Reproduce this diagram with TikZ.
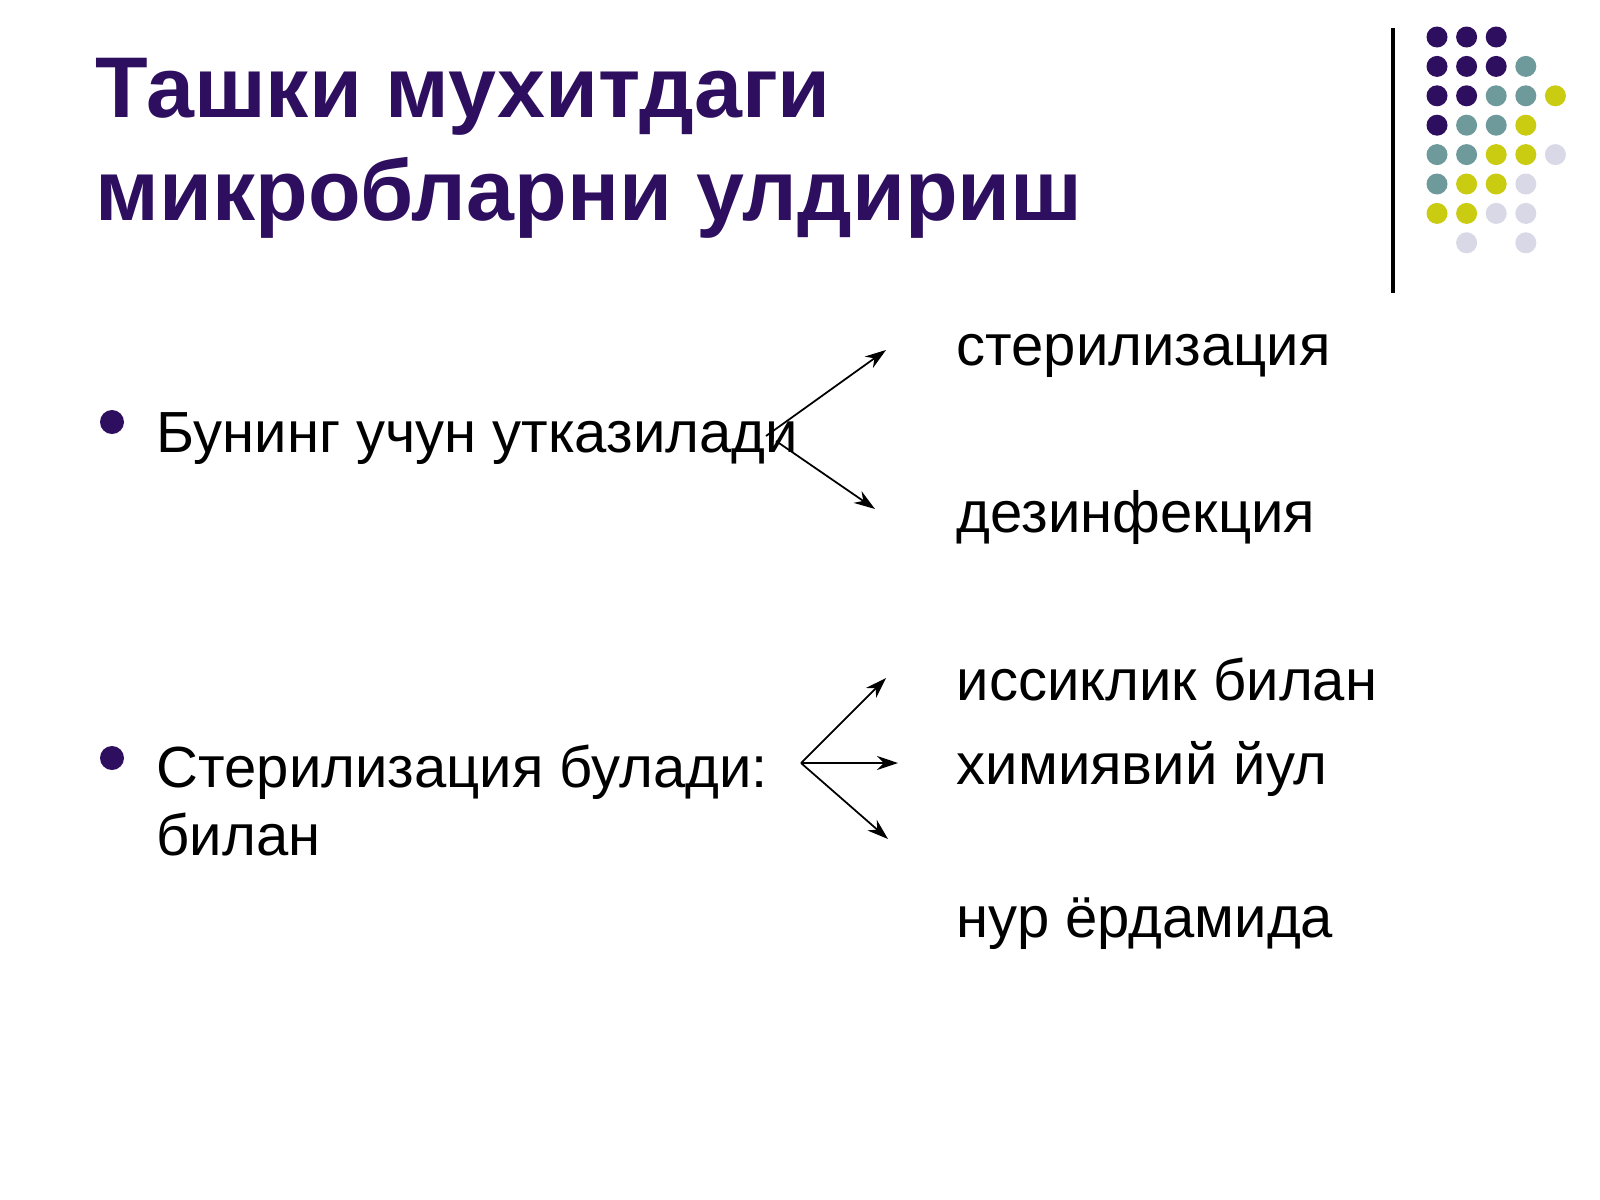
\documentclass[tikz,border=0pt]{standalone}
\usepackage{fontspec}
\setmainfont{Liberation Sans}
\usetikzlibrary{arrows.meta}
\definecolor{pur}{HTML}{2E0E5E}
\definecolor{tl}{HTML}{6E9A9C}
\definecolor{yl}{HTML}{C9CC10}
\definecolor{lv}{HTML}{D8D8E6}
\begin{document}
\begin{tikzpicture}[x=0.01cm,y=-0.01cm,
  body/.style={anchor=base west,inner sep=0,font=\fontsize{16.5}{20}\selectfont},
  ttl/.style={anchor=base west,inner sep=0,text=pur,font=\fontsize{24.5}{30}\bfseries\selectfont},
  arr/.style={-{Stealth[length=6pt,width=4pt]},line width=0.5pt}]
\useasboundingbox (0,0) rectangle (1600,1200);
\fill[white] (0,0) rectangle (1600,1200);
\node[ttl] (title) at (95,117) {Ташки мухитдаги};
\node[ttl] (title2) at (95,220) {микробларни улдириш};
\draw[line width=0.9pt] (1393,28) -- (1393,293);
% dots
\newcommand\dotrow[2]{\foreach \c [count=\i from 0] in {#2}{\fill[\c] ({1437+29.6*\i},{37+29.4*#1}) circle (10.5);}}
\dotrow{0}{pur,pur,pur}
\dotrow{1}{pur,pur,pur,tl}
\dotrow{2}{pur,pur,tl,tl,yl}
\dotrow{3}{pur,tl,tl,yl}
\dotrow{4}{tl,tl,yl,yl,lv}
\dotrow{5}{tl,yl,yl,lv}
\dotrow{6}{yl,yl,lv,lv}
\dotrow{7}{white,lv,white,lv}
\fill[pur] (112,422) circle (12);
\fill[pur] (112,758) circle (12);
\node[body] (b1) at (156,452) {Бунинг учун утказилади};
\node[body] (b2) at (156,787) {Стерилизация булади:};
\node[body] (b3) at (156,855) {билан};
\node[body] (r1) at (956,365) {стерилизация};
\node[body] (r2) at (956,532) {дезинфекция};
\node[body] (r3) at (956,700) {иссиклик билан};
\node[body] (r4) at (956,784) {химиявий йул};
\node[body] (r5) at (956,937) {нур ёрдамида};
\coordinate (s1) at (766,436);
\coordinate (s1b) at (776,441);
\coordinate (s2) at (801,763);
\coordinate (e1) at (886,350);
\coordinate (e2) at (875,509);
\coordinate (e3) at (886,678);
\coordinate (e4) at (898,763);
\coordinate (e5) at (888,839);
\draw[arr] (s1) -- (e1);
\draw[arr] (s1b) -- (e2);
\draw[arr] (s2) -- (e3);
\draw[arr] (s2) -- (e4);
\draw[arr] (s2) -- (e5);
\end{tikzpicture}
\end{document}
